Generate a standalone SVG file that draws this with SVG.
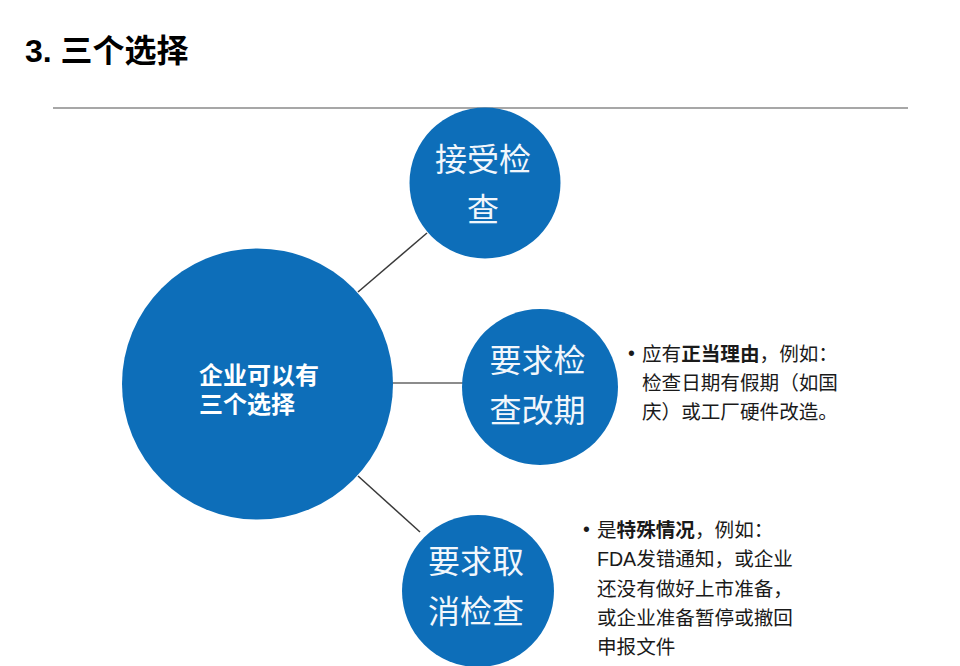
<svg xmlns="http://www.w3.org/2000/svg" width="960" height="666" viewBox="0 0 960 666">
<style>
.bg{fill:#ffffff}
.node{fill:#0D6EB9}
.cjk{font-family:"Liberation Sans","Noto Sans CJK SC",sans-serif}
.ct{fill:#F2F7FC;font-size:32px;text-anchor:middle}
.big{fill:#FFFFFF;font-size:24px;font-weight:bold}
.note{fill:#1a1a1a;font-size:19.6px}
.b{font-weight:bold}
.conn{stroke:#3a3a3a;stroke-width:1.5;fill:none}
</style>
<rect class="bg" x="0" y="0" width="960" height="666"/>
<text class="cjk" x="25" y="62" font-size="32" font-weight="bold" fill="#000">3. 三个选择</text>
<line x1="53" y1="108" x2="908" y2="108" stroke="#8a8a8a" stroke-width="1.5"/>
<g id="connectors">
<line class="conn" x1="358" y1="292" x2="427" y2="233"/>
<line class="conn" x1="392" y1="383" x2="465" y2="383" style="stroke:#8c8c8c;stroke-width:2"/>
<line class="conn" x1="358" y1="476" x2="420" y2="532"/>
</g>
<g id="center">
<circle class="node" cx="257.5" cy="384" r="135.5"/>
<text class="cjk big" x="199" y="384">企业可以有</text>
<text class="cjk big" x="199" y="413">三个选择</text>
</g>
<g id="accept">
<circle class="node" cx="485" cy="183" r="75.5"/>
<text class="cjk ct" x="483" y="171">接受检</text>
<text class="cjk ct" x="483" y="221">查</text>
</g>
<g id="reschedule">
<circle class="node" cx="540" cy="387" r="78"/>
<text class="cjk ct" x="537.5" y="372" font-size="33">要求检</text>
<text class="cjk ct" x="537.5" y="422" font-size="33">查改期</text>
</g>
<g id="cancel">
<circle class="node" cx="478" cy="591" r="76"/>
<text class="cjk ct" x="476" y="573">要求取</text>
<text class="cjk ct" x="476" y="623">消检查</text>
</g>
<g id="note-reschedule">
<text class="cjk note" x="628" y="360" font-size="15">•</text>
<text class="cjk note" x="642" y="361">应有<tspan class="b">正当理由</tspan>，例如：</text>
<text class="cjk note" x="642" y="390">检查日期有假期（如国</text>
<text class="cjk note" x="642" y="419">庆）或工厂硬件改造。</text>
</g>
<g id="note-cancel">
<text class="cjk note" x="583" y="536" font-size="15">•</text>
<text class="cjk note" x="597" y="537">是<tspan class="b">特殊情况</tspan>，例如：</text>
<text class="cjk note" x="597" y="566">FDA发错通知，或企业</text>
<text class="cjk note" x="597" y="596">还没有做好上市准备，</text>
<text class="cjk note" x="597" y="625">或企业准备暂停或撤回</text>
<text class="cjk note" x="597" y="654">申报文件</text>
</g>
</svg>
